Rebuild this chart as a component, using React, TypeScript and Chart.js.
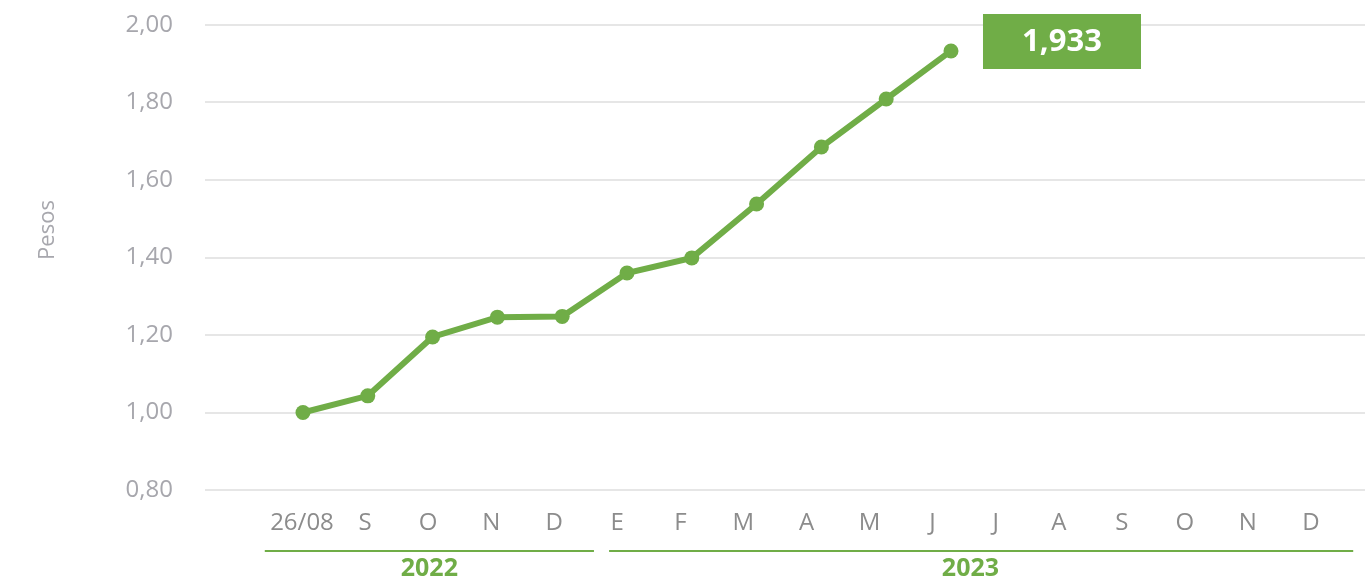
import React, { useEffect, useRef } from 'react';
import { Chart, registerables } from 'chart.js';

Chart.register(...registerables);

const monthLabels = ['26/08', 'S', 'O', 'N', 'D', 'E', 'F', 'M', 'A', 'M', 'J', 'J', 'A', 'S', 'O', 'N', 'D'];
const values = [1.0, 1.043, 1.195, 1.246, 1.248, 1.36, 1.399, 1.538, 1.685, 1.809, 1.933];
const yTicks = [0.8, 1.0, 1.2, 1.4, 1.6, 1.8, 2.0];
const years = ['2022', '2023'];
const yearStart = [-0.59, 4.87];
const yearEnd = [4.63, 16.67];
const yearCenter = [2.02, 10.6];
const yAxisTitle = 'Pesos';

const GREEN = '#70ad47';
const FONT = "'Open Sans', sans-serif";

const fmt = (v: number, d: number) => v.toFixed(d).replace('.', ',');

const zeroPad = (s: any) => {
  s.paddingLeft = 0;
  s.paddingRight = 0;
  s.paddingTop = 0;
  s.paddingBottom = 0;
};

const decorPlugin = {
  id: 'decor',
  afterDraw(chart: any) {
    const ctx = chart.ctx;
    const xl = chart.scales.x2;
    const xd = chart.scales.x;
    ctx.save();
    // axis title
    ctx.translate(48, 230);
    ctx.rotate(-Math.PI / 2);
    ctx.fillStyle = '#a7a7ad';
    ctx.font = `22px ${FONT}`;
    ctx.textAlign = 'center';
    ctx.textBaseline = 'middle';
    ctx.fillText(yAxisTitle, 0, 0);
    ctx.restore();

    ctx.save();
    // year groups
    ctx.strokeStyle = GREEN;
    ctx.lineWidth = 2;
    ctx.fillStyle = GREEN;
    ctx.font = `bold 25px ${FONT}`;
    ctx.textAlign = 'center';
    ctx.textBaseline = 'middle';
    years.forEach((yr, i) => {
      const a = xl.getPixelForValue(yearStart[i]);
      const b = xl.getPixelForValue(yearEnd[i]);
      ctx.beginPath();
      ctx.moveTo(a, 551);
      ctx.lineTo(b, 551);
      ctx.stroke();
      ctx.fillText(yr, xl.getPixelForValue(yearCenter[i]), 569);
    });

    // last value box
    const li = values.length - 1;
    const px = xd.getPixelForValue(li);
    const bx = px + 32;
    const bw = 158;
    const by = 14;
    const bh = 55;
    ctx.fillStyle = GREEN;
    ctx.fillRect(bx, by, bw, bh);
    ctx.fillStyle = '#ffffff';
    ctx.font = `bold 31px ${FONT}`;
    ctx.fillText(fmt(values[li], 3), bx + bw / 2, by + bh / 2 + 1);
    ctx.restore();
  },
};

export default function App() {
  const ref = useRef<HTMLCanvasElement | null>(null);

  useEffect(() => {
    if (!ref.current) return;
    const chart = new Chart(ref.current, {
      type: 'line',
      data: {
        datasets: [
          {
            data: values.map((v, i) => ({ x: i, y: v })),
            xAxisID: 'x',
            yAxisID: 'y',
            borderColor: GREEN,
            backgroundColor: GREEN,
            borderWidth: 6,
            pointRadius: 7.5,
            pointBackgroundColor: GREEN,
            pointBorderWidth: 0,
            tension: 0,
          },
        ],
      },
      options: {
        animation: false,
        responsive: false,
        maintainAspectRatio: false,
        devicePixelRatio: 1,
        layout: { autoPadding: false, padding: { top: 25, left: 0, right: 0, bottom: 0 } },
        plugins: { legend: { display: false }, tooltip: { enabled: false } },
        scales: {
          x: {
            type: 'linear',
            min: -1.512,
            max: 16.389,
            display: false,
            ticks: { display: false },
            afterFit: zeroPad,
          },
          x2: {
            type: 'linear',
            position: 'bottom',
            min: -1.538,
            max: 16.857,
            grid: { display: false, drawTicks: false },
            border: { display: false },
            afterBuildTicks: (s: any) => {
              s.ticks = monthLabels.map((_, i) => ({ value: i }));
            },
            afterFit: (s: any) => {
              s.height = 89;
              zeroPad(s);
            },
            ticks: {
              autoSkip: false,
              maxRotation: 0,
              padding: 19,
              color: '#8c8c8c',
              font: { family: FONT, size: 24 },
              callback: (v: any) => monthLabels[v] ?? '',
            },
          },
          y: {
            min: 0.8,
            max: 2.0,
            afterBuildTicks: (s: any) => {
              s.ticks = yTicks.map((v) => ({ value: v }));
            },
            afterFit: (s: any) => {
              s.width = 205;
              zeroPad(s);
            },
            grid: { color: '#e6e6e6', lineWidth: 2, drawTicks: false },
            border: { display: false },
            ticks: {
              padding: 32,
              color: '#a7a7ad',
              font: { family: FONT, size: 24 },
              callback: (v: any) => fmt(Number(v), 2),
            },
          },
        },
      },
      plugins: [decorPlugin],
    });
    return () => chart.destroy();
  }, []);

  return (
    <div style={{ position: 'fixed', left: 0, top: 0, width: 1365, height: 579, background: '#fff' }}>
      <canvas ref={ref} width={1365} height={579} style={{ display: 'block', width: 1365, height: 579 }} />
    </div>
  );
}
